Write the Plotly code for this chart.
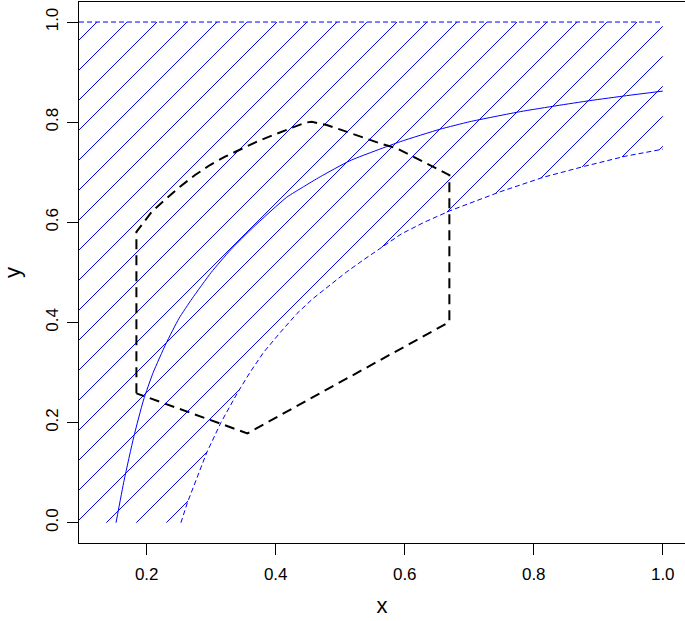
import numpy as np
import plotly.graph_objects as go

# ---- data ----
# solid blue curve
solid_x = [0.1524, 0.165, 0.180, 0.195, 0.210, 0.230, 0.250, 0.270, 0.300, 0.330, 0.365,
           0.417, 0.443, 0.469, 0.515, 0.593, 0.655, 0.701, 0.779, 0.836, 0.887, 0.944, 1.0]
solid_y = [0.0, 0.085, 0.172, 0.245, 0.300, 0.358, 0.408, 0.447, 0.500, 0.545, 0.590,
           0.650, 0.671, 0.691, 0.723, 0.761, 0.786, 0.801, 0.821, 0.833, 0.843, 0.853, 0.862]

# dotted lower boundary of the hatched band
bound_x = [0.253, 0.263, 0.278, 0.293, 0.315, 0.340, 0.360, 0.381, 0.407, 0.433, 0.458,
           0.484, 0.510, 0.536, 0.562, 0.595, 0.630, 0.670, 0.748, 0.815, 0.879, 0.942, 1.0]
bound_y = [0.0, 0.04, 0.09, 0.14, 0.20, 0.258, 0.300, 0.340, 0.380, 0.418, 0.448,
           0.475, 0.501, 0.525, 0.548, 0.577, 0.600, 0.623, 0.661, 0.690, 0.712, 0.732, 0.746]
band_top = 1.0
band_right = 1.0

# black dashed polygon
poly_x = [0.184, 0.184, 0.1922, 0.2078, 0.2310, 0.2516, 0.2749, 0.2981, 0.3214, 0.3446,
          0.3705, 0.3963, 0.4222, 0.4454, 0.4558, 0.4791, 0.5126, 0.5617, 0.5876, 0.6133,
          0.6392, 0.6598, 0.6692, 0.6692, 0.3560, 0.184]
poly_y = [0.2584, 0.581, 0.5946, 0.6211, 0.6479, 0.6711, 0.6944, 0.7144, 0.7310, 0.7457,
          0.7609, 0.7743, 0.7877, 0.7989, 0.8009, 0.7943, 0.7797, 0.7577, 0.7477, 0.7310,
          0.7144, 0.7010, 0.6944, 0.4010, 0.1785, 0.2584]

x_ticks = [0.2, 0.4, 0.6, 0.8, 1.0]
x_tick_labels = ["0.2", "0.4", "0.6", "0.8", "1.0"]
y_ticks = [0.0, 0.2, 0.4, 0.6, 0.8, 1.0]
y_tick_labels = ["0.0", "0.2", "0.4", "0.6", "0.8", "1.0"]

# ---- layout geometry ----
W, H = 685, 621
ML, MR, MT, MB = 79, 0, 2, 78
X_RANGE = [0.095, 1.0345]
Y_RANGE = [-0.0405, 1.04]
px_x = (W - ML - MR) / (X_RANGE[1] - X_RANGE[0])
px_y = (H - MT - MB) / (Y_RANGE[1] - Y_RANGE[0])

# hatch lines at 45 degrees on screen (like R polygon density/angle)
HATCH_SPACING = 30.0
HATCH_OFFSET = 119.0
band_left = X_RANGE[0]

xs = np.linspace(band_left, band_right, 6001)
lower = np.interp(xs, bound_x, bound_y, left=0.0)
Xp = ML + (xs - X_RANGE[0]) * px_x
hatch_segments = []
for k in range(-3, 50):
    c = HATCH_OFFSET + k * HATCH_SPACING
    Yp = c - Xp
    ys = Y_RANGE[1] - (Yp - MT) / px_y
    inside = (ys <= band_top) & (ys >= lower)
    edges = np.flatnonzero(np.diff(np.concatenate([[0], inside.astype(int), [0]])))
    for s, e in zip(edges[::2], edges[1::2]):
        if e - 1 <= s:
            continue
        hatch_segments.append((float(xs[s]), float(ys[s]), float(xs[e - 1]), float(ys[e - 1])))

BLUE = "#0000FF"

fig = go.Figure()
for x0, y0, x1, y1 in hatch_segments:
    fig.add_shape(type="line", xref="x", yref="y", x0=x0, y0=y0, x1=x1, y1=y1,
                  line=dict(color=BLUE, width=1), layer="below")
fig.add_trace(go.Scatter(x=[band_left, band_right], y=[band_top, band_top], mode="lines",
                         line=dict(color=BLUE, width=1, dash="5px,3px"), showlegend=False))
fig.add_trace(go.Scatter(x=bound_x, y=bound_y, mode="lines",
                         line=dict(color=BLUE, width=1, dash="5px,3px"), showlegend=False))
fig.add_trace(go.Scatter(x=solid_x, y=solid_y, mode="lines",
                         line=dict(color=BLUE, width=1, shape="spline", smoothing=0.5),
                         showlegend=False))
fig.add_trace(go.Scatter(x=poly_x, y=poly_y, mode="lines",
                         line=dict(color="black", width=2, dash="10px,6px"), showlegend=False))

axis_common = dict(showgrid=False, zeroline=False, showline=True, mirror=True,
                   linecolor="black", linewidth=1, ticks="outside", ticklen=11,
                   tickwidth=1, tickcolor="black",
                   tickfont=dict(family="Liberation Sans, Arial", size=17, color="black"))

fig.update_layout(
    width=W, height=H,
    margin=dict(l=ML, r=MR, t=MT, b=MB, pad=0),
    paper_bgcolor="white", plot_bgcolor="white",
    font=dict(family="Liberation Sans, Arial", color="black"),
    hovermode=False,
    xaxis=dict(range=X_RANGE, tickvals=x_ticks, ticktext=x_tick_labels,
               ticklabelstandoff=5,
               title=dict(text="x", font=dict(size=22), standoff=14),
               automargin=False, **axis_common),
    yaxis=dict(range=Y_RANGE, tickvals=y_ticks, ticktext=y_tick_labels, tickangle=-90,
               ticklabelstandoff=2,
               title=dict(text="y", font=dict(size=22), standoff=21),
               automargin=False, **axis_common),
)

fig.write_html("out.html", config={"displayModeBar": False},
               post_script="document.body.style.margin='0px';")
